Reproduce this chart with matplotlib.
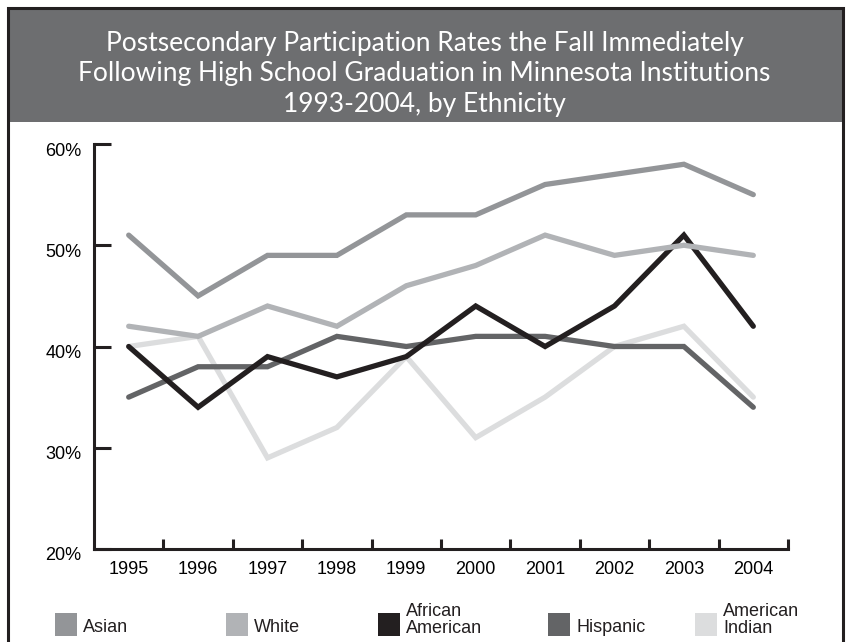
import matplotlib
matplotlib.use("Agg")
import matplotlib.pyplot as plt
import matplotlib.patches as mpatches
import matplotlib.transforms as mtrans

years = ['1995', '1996', '1997', '1998', '1999', '2000', '2001', '2002', '2003', '2004']
asian = [51, 45, 49, 49, 53, 53, 56, 57, 58, 55]
white = [42, 41, 44, 42, 46, 48, 51, 49, 50, 49]
african_american = [40, 34, 39, 37, 39, 44, 40, 44, 51, 42]
hispanic = [35, 38, 38, 41, 40, 41, 41, 40, 40, 34]
american_indian = [40, 41, 29, 32, 39, 31, 35, 40, 42, 35]

names = ['Asian', 'White', 'African\nAmerican', 'Hispanic', 'American\nIndian']
series = [asian, white, african_american, hispanic, american_indian]
colors = ['#939598', '#b1b3b6', '#231f20', '#636466', '#dcddde']
zorders = [6, 5, 4, 3, 2]

yticks = [20, 30, 40, 50, 60]

W, H = 849, 642
font = ['Liberation Sans', 'DejaVu Sans']
title_font = ['Lato', 'DejaVu Sans']
dark = '#231f20'

def fx(x):
    return x / W

def fy(y):
    return 1 - y / H

fig = plt.figure(figsize=(W / 100, H / 100), dpi=100)

# frame and title band
band = mpatches.Rectangle((fx(8), fy(122)), fx(835), 114 / H, transform=fig.transFigure,
                          facecolor='#6d6e70', edgecolor='none', zorder=0)
fig.patches.append(band)
frame = mpatches.Rectangle((fx(8), fy(660)), fx(835), 652 / H, transform=fig.transFigure,
                           facecolor='none', edgecolor=dark, lw=2.2, zorder=1)
fig.patches.append(frame)

fig.text(0.5, fy(74), "Postsecondary Participation Rates the Fall Immediately\n"
         "Following High School Graduation in Minnesota Institutions\n"
         "1993-2004, by Ethnicity",
         ha='center', va='center', color='white', fontsize=19, family=title_font,
         linespacing=1.26)

ax = fig.add_axes([fx(94), fy(549), fx(788) - fx(94), fy(144) - fy(549)])
x = list(range(len(years)))
for vals, c, z in zip(series, colors, zorders):
    ax.plot(x, vals, color=c, lw=3.8, solid_joinstyle='miter', solid_capstyle='round', zorder=z)

ax.set_xlim(-0.5, len(years) - 0.5)
ax.set_ylim(20, 60)
for s in ['top', 'right']:
    ax.spines[s].set_visible(False)
for s in ['left', 'bottom']:
    ax.spines[s].set_linewidth(2.2)
    ax.spines[s].set_color(dark)

ax.set_yticks(yticks)
ax.set_yticklabels(['%d%%' % v for v in yticks], family=font, fontsize=13)
ax.tick_params(axis='y', direction='in', length=12, width=2.2, color=dark, pad=9)
off = mtrans.ScaledTranslation(0, -5 / 100, fig.dpi_scale_trans)
for lbl in ax.get_yticklabels():
    lbl.set_transform(lbl.get_transform() + off)

ax.set_xticks(x)
ax.set_xticklabels(years, family=font, fontsize=13)
ax.tick_params(axis='x', which='major', length=0, pad=9)
ax.set_xticks([i + 0.5 for i in x], minor=True)
ax.tick_params(axis='x', which='minor', direction='in', length=7, width=2.2, color=dark)

# legend
lx = [55, 226, 378, 548, 695]
for name, c, x0 in zip(names, colors, lx):
    sq = mpatches.Rectangle((fx(x0), fy(636)), 22 / W, 23 / H, transform=fig.transFigure,
                            facecolor=c, edgecolor='none')
    fig.patches.append(sq)
    ty = 628 if '\n' not in name else 620
    fig.text(fx(x0 + 28), fy(ty), name, ha='left', va='center', fontsize=13,
             family=font, color=dark, linespacing=0.95)

fig.savefig('out.png', dpi=100)
